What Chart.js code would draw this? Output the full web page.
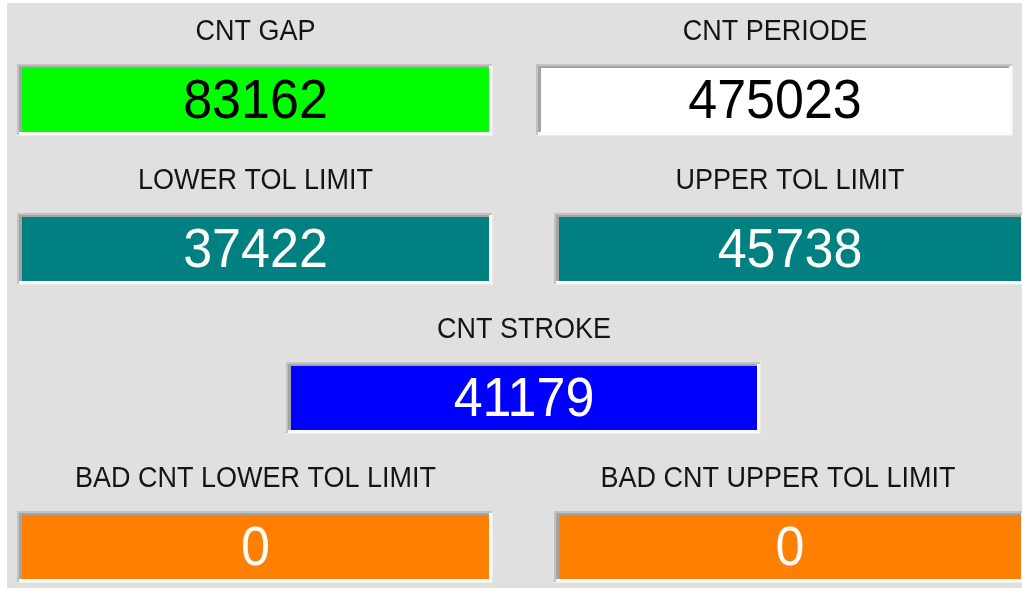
<!DOCTYPE html>
<html>
<head>
<meta charset="utf-8">
<title>CNT panel</title>
<script src="https://cdn.jsdelivr.net/npm/chart.js@4.4.1/dist/chart.umd.min.js"></script>
<style>
  html, body { margin: 0; padding: 0; background: #ffffff; }
  #wrap { width: 1022px; height: 591px; }
</style>
</head>
<body>
<div id="wrap"><canvas id="c" width="1022" height="591"></canvas></div>
<script>
// ---- data ----
const fieldLabels = [
  "CNT GAP", "CNT PERIODE",
  "LOWER TOL LIMIT", "UPPER TOL LIMIT",
  "CNT STROKE",
  "BAD CNT LOWER TOL LIMIT", "BAD CNT UPPER TOL LIMIT"
];
const fieldValues = [83162, 475023, 37422, 45738, 41179, 0, 0];

// ---- layout (panel units = canvas pixels) ----
const fieldRows  = [0, 0, 1, 1, 2, 3, 3];
const fieldSpans = [[22, 489], [541, 1009], [22, 489], [559, 1021], [291, 757], [22, 489], [559, 1021]];
const labelShift = [0, 0, 0, 0, 0, 0, -12];
const rowPitch = 149, firstRowCenter = 100, labelRise = 68;
const panelW = 1022, panelH = 591;

// ---- styles ----
const fillColors = ["#00ff00", "#ffffff", "#008080", "#008080", "#0000ff", "#ff8000", "#ff8000"];
const textColors = ["#000000", "#000000", "#ffffff", "#ffffff", "#ffffff", "#ffffff", "#ffffff"];
const FONT = '"Liberation Sans", Arial, sans-serif';

const yMin = -firstRowCenter / rowPitch;
const yMax = yMin + panelH / rowPitch;

function drawScaledText(ctx, text, x, y, sy) {
  ctx.save();
  ctx.translate(x, y);
  ctx.scale(1, sy);
  ctx.fillText(text, 0, 0);
  ctx.restore();
}

const panelPlugin = {
  id: 'panel',
  beforeDraw(chart) {
    const ctx = chart.ctx;
    ctx.save();
    ctx.fillStyle = '#ffffff';
    ctx.fillRect(0, 0, chart.width, chart.height);
    ctx.fillStyle = '#e0e0e0';
    ctx.fillRect(7, 3, chart.width - 7, 585);
    ctx.restore();
  },
  afterDatasetsDraw(chart) {
    const ctx = chart.ctx;
    const meta = chart.getDatasetMeta(0);
    ctx.save();
    meta.data.forEach((el, i) => {
      const p = el.getProps(['x', 'y', 'base', 'height'], true);
      const left = Math.min(p.x, p.base), right = Math.max(p.x, p.base);
      const top = p.y - p.height / 2, bottom = p.y + p.height / 2;
      // bevel: dark top/left, light bottom/right
      ctx.fillStyle = '#c2c2c2';
      ctx.fillRect(left - 5, top - 4, right - left + 8, 2);
      ctx.fillRect(left - 5, top - 4, 2, bottom - top + 7);
      ctx.fillStyle = '#a4a4a4';
      ctx.fillRect(left - 3, top - 2, right - left + 5, 2);
      ctx.fillRect(left - 3, top - 2, 3, bottom - top + 4);
      ctx.fillStyle = '#fbfbfb';
      ctx.fillRect(left - 3, bottom, right - left + 6, 3);
      ctx.fillRect(right, top - 2, 3, bottom - top + 5);
      ctx.fillStyle = '#ececec';
      ctx.fillRect(left - 5, bottom + 3, right - left + 9, 1);
      ctx.fillRect(right + 3, top - 4, 1, bottom - top + 8);
      // value text
      const cx = (left + right) / 2;
      ctx.textAlign = 'center';
      ctx.textBaseline = 'middle';
      ctx.fillStyle = textColors[i];
      ctx.font = '52px ' + FONT;
      drawScaledText(ctx, String(fieldValues[i]), cx, p.y + 3, 1.08);
      // label above
      ctx.fillStyle = '#141414';
      ctx.font = '27px ' + FONT;
      drawScaledText(ctx, fieldLabels[i], cx + labelShift[i], p.y - labelRise, 1.08);
    });
    ctx.restore();
  }
};

new Chart(document.getElementById('c'), {
  type: 'bar',
  data: {
    labels: fieldLabels,
    datasets: [{
      data: fieldSpans.map((s, i) => ({ x: s, y: fieldRows[i] })),
      backgroundColor: fillColors,
      borderWidth: 0,
      barThickness: 64
    }]
  },
  options: {
    indexAxis: 'y',
    responsive: false,
    animation: false,
    devicePixelRatio: 1,
    layout: { padding: 0 },
    plugins: { legend: { display: false }, tooltip: { enabled: false } },
    scales: {
      x: { type: 'linear', min: 0, max: panelW, display: false, offset: false, grace: 0 },
      y: { type: 'linear', min: yMin, max: yMax, reverse: true, display: false, offset: false, grace: 0 }
    }
  },
  plugins: [panelPlugin]
});
</script>
</body>
</html>
